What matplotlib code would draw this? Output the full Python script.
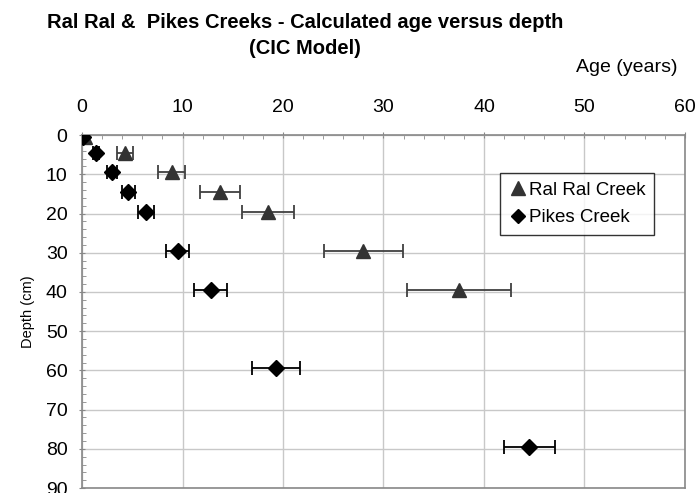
import numpy as np
import matplotlib.pyplot as plt
from matplotlib.ticker import MultipleLocator
from matplotlib.lines import Line2D

plt.rcParams['font.family'] = ['Liberation Sans', 'DejaVu Sans']

# Ral Ral Creek
ralral_depth = [0.5, 4.5, 9.5, 14.5, 19.5, 29.5, 39.5]
ralral_age = [0.3, 4.3, 8.9, 13.7, 18.5, 28.0, 37.5]
ralral_err = [0.2, 0.8, 1.35, 2.0, 2.55, 3.9, 5.2]

# Pikes Creek
pikes_depth = [0.5, 4.5, 9.5, 14.5, 19.5, 29.5, 39.5, 59.5, 79.5]
pikes_age = [0.1, 1.4, 3.0, 4.6, 6.4, 9.5, 12.8, 19.3, 44.5]
pikes_err = [0.1, 0.3, 0.5, 0.65, 0.8, 1.15, 1.65, 2.4, 2.55]

fig = plt.figure(figsize=(6.96, 4.93), dpi=100)
ax = fig.add_axes([0.118, 0.01, 0.866, 0.716])

ax.errorbar(ralral_age, ralral_depth, xerr=ralral_err, fmt='^', color='#333333',
            ms=10, ecolor='#404040', elinewidth=1.3, capsize=5, capthick=1.3, zorder=3)
ax.errorbar(pikes_age, pikes_depth, xerr=pikes_err, fmt='D', color='black',
            ms=8, ecolor='black', elinewidth=1.3, capsize=5, capthick=1.3, zorder=4)

ax.set_xlim(0, 60)
ax.set_ylim(90, 0)
ax.xaxis.tick_top()
ax.xaxis.set_major_locator(MultipleLocator(10))
ax.xaxis.set_minor_locator(MultipleLocator(2))
ax.yaxis.set_major_locator(MultipleLocator(10))
ax.yaxis.set_minor_locator(MultipleLocator(2))
ax.tick_params(axis='both', which='major', labelsize=14, length=5, color='#888888',
               direction='inout')
ax.tick_params(axis='x', which='major', pad=11)
ax.tick_params(axis='y', which='major', pad=8)
ax.tick_params(axis='both', which='minor', length=3, color='#888888', direction='in')
ax.grid(True, which='major', color='#c8c8c8', linewidth=1)
ax.set_axisbelow(True)
for s in ax.spines.values():
    s.set_color('#888888')
    s.set_linewidth(1.2)

ax.set_ylabel('Depth (cm)', fontsize=10.5, labelpad=8)
fig.text(678 / 696, 1 - 67 / 493, 'Age (years)', ha='right', va='center', fontsize=14)

fig.text(0.438, 1 - 22 / 493, 'Ral Ral &  Pikes Creeks - Calculated age versus depth',
         ha='center', va='center', fontsize=14.5, fontweight='bold')
fig.text(0.438, 1 - 49 / 493, '(CIC Model)',
         ha='center', va='center', fontsize=14.5, fontweight='bold')

handles = [Line2D([], [], ls='none', marker='^', color='#333333', ms=10),
           Line2D([], [], ls='none', marker='D', color='black', ms=7)]
leg = ax.legend(handles, ['Ral Ral Creek', 'Pikes Creek'], loc='upper left',
                bbox_to_anchor=((500 - 82) / 603, 1 - (173 - 135) / 353), fontsize=13.5,
                frameon=True, fancybox=False, edgecolor='black', handletextpad=0.1,
                borderpad=0.45, handlelength=1.0, labelspacing=0.55, borderaxespad=0)
leg.get_frame().set_linewidth(1)

fig.savefig('out.png', dpi=100)
